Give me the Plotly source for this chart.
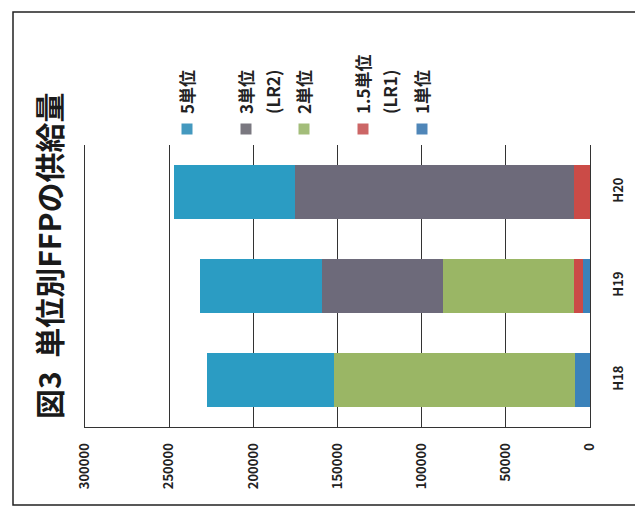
import plotly.graph_objects as go

categories = ["H18", "H19", "H20"]
series_names = ["1単位", "1.5単位<br>(LR1)", "2単位", "3単位<br>(LR2)", "5単位"]
v_1 = [9000, 4000, 0]
v_15 = [0, 5500, 9500]
v_2 = [143000, 78000, 0]
v_3 = [0, 71500, 165500]
v_5 = [75500, 72500, 72000]
series_values = [v_1, v_15, v_2, v_3, v_5]
colors = ["#3B82BA", "#CB4B47", "#9AB665", "#6D6A7A", "#2B9CC3"]
legend_colors = ["#4F86B8", "#CC6666", "#A3BD7A", "#7A7880", "#4499BF"]
tick_vals = [0, 50000, 100000, 150000, 200000, 250000, 300000]
tick_text = ["0", "50000", "100000", "150000", "200000", "250000", "300000"]
title_text = "図3  単位別FFPの供給量"

# page has an 8px body margin; compensate
OFF = 8
W, H = 643 - OFF, 511 - OFF
L, R, T, B = 85 - OFF, 53, 145 - OFF, 84
pw, ph = W - L - R, H - T - B


def px_x(px):
    return (px - OFF - L) / pw


def px_y(py):
    return (H - B - (py - OFF)) / ph


FONT = "Noto Sans CJK JP"

fig = go.Figure()
for name, vals, c in zip(series_names, series_values, colors):
    fig.add_trace(go.Bar(y=categories, x=vals, orientation="h", name=name,
                         marker=dict(color=c, line=dict(width=0))))

shapes = []
annotations = []
# legend (rotated), left-to-right: 5, 3, 2, 1.5, 1
legend_x = [187, 246, 304, 363, 422]
order = [4, 3, 2, 1, 0]
for lx, idx in zip(legend_x, order):
    shapes.append(dict(type="rect", xref="paper", yref="paper",
                       x0=px_x(lx - 5.5), x1=px_x(lx + 5.5),
                       y0=px_y(134.5), y1=px_y(123.5),
                       fillcolor=legend_colors[idx], line=dict(width=0)))
    for i, line in enumerate(series_names[idx].split("<br>")):
        annotations.append(dict(text=line, xref="paper", yref="paper",
                                x=px_x(lx + i * 27), y=px_y(116),
                                xanchor="center", yanchor="bottom",
                                textangle=-90, showarrow=False,
                                font=dict(family=FONT, size=17, color="#222", weight="bold")))

annotations.append(dict(text=title_text, xref="paper", yref="paper",
                        x=px_x(48), y=px_y(256), xanchor="center", yanchor="middle",
                        textangle=-90, showarrow=False,
                        font=dict(family=FONT, size=30, color="#1a1a1a", weight="bold")))

# outer frame
shapes.append(dict(type="rect", xref="paper", yref="paper",
                   x0=px_x(13), x1=px_x(639), y0=px_y(505), y1=px_y(12),
                   line=dict(color="#222", width=1.5), fillcolor="rgba(0,0,0,0)",
                   layer="below"))

fig.update_layout(
    width=W, height=H,
    margin=dict(l=L, r=R, t=T, b=B),
    barmode="stack", bargap=0.42,
    showlegend=False,
    plot_bgcolor="white", paper_bgcolor="white",
    font=dict(family=FONT, color="#222"),
    xaxis=dict(range=[300000, 0], tickvals=tick_vals, ticktext=tick_text,
               tickangle=-90, showgrid=True, gridcolor="#333", gridwidth=1,
               showline=True, linecolor="#333", linewidth=1, zeroline=False,
               ticks="", ticklabelstandoff=10,
               tickfont=dict(family=FONT, size=13, color="#222", weight="bold")),
    yaxis=dict(side="right", tickangle=-90, showline=True, mirror=True,
               linecolor="#333", linewidth=1, showgrid=False, ticks="",
               ticklabelstandoff=16,
               tickfont=dict(family=FONT, size=13, color="#222", weight="bold")),
    shapes=shapes, annotations=annotations,
)

fig.write_html("out.html")
